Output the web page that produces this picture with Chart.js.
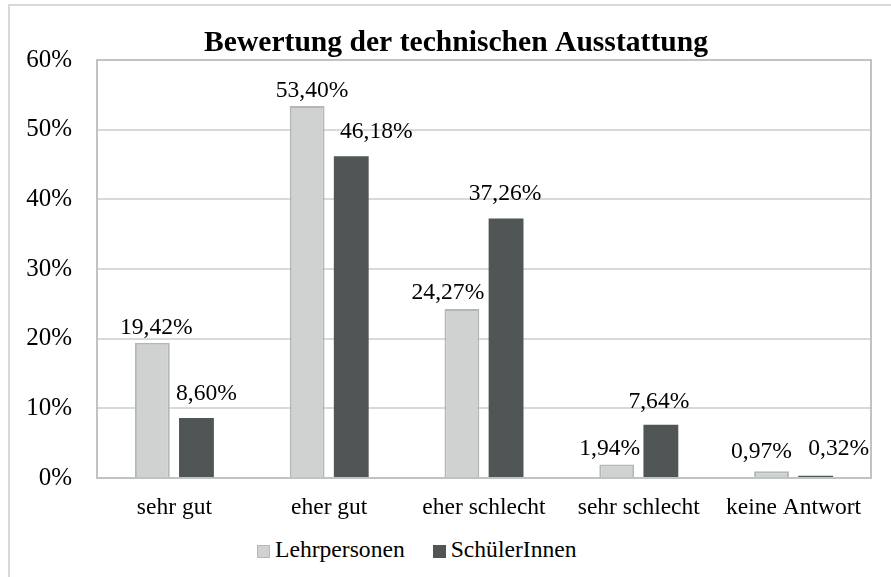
<!DOCTYPE html>
<html lang="de">
<head>
<meta charset="UTF-8">
<title>Bewertung der technischen Ausstattung</title>
<script src="https://cdn.jsdelivr.net/npm/chart.js@4.4.1/dist/chart.umd.min.js"></script>
<style>
    * { margin: 0; padding: 0; box-sizing: border-box; }
    body {
        background: #fff;
        width: 891px;
        height: 577px;
        overflow: hidden;
        position: relative;
        font-family: "Liberation Serif", serif;
    }
    .frame {
        position: absolute;
        left: 8px;
        top: 4px;
        width: 900px;
        height: 600px;
        border: 2px solid #d9d9d9;
    }
    .chart-box {
        position: absolute;
        left: 21px;
        top: 0;
        width: 870px;
        height: 530px;
    }
    #legend {
        position: absolute;
        left: 257px;
        top: 536px;
        display: flex;
        gap: 28px;
        font-size: 23.6px;
        color: #000;
    }
    .legend-item { display: flex; align-items: center; }
    .legend-box { width: 13px; height: 13px; margin-right: 5px; margin-top: 3px; }
</style>
</head>
<body>
<div class="frame"></div>
<div class="chart-box"><canvas id="chart"></canvas></div>
<div id="legend"></div>

<script>
    // values
    const categories = ['sehr gut', 'eher gut', 'eher schlecht', 'sehr schlecht', 'keine Antwort'];
    const lehrpersonen = [19.42, 53.40, 24.27, 1.94, 0.97];
    const schuelerInnen = [8.60, 46.18, 37.26, 7.64, 0.32];
    const yTicks = [0, 10, 20, 30, 40, 50, 60];

    // little nudges of the value labels, like in the original sheet
    const labelShift = [
        [[4, 0], [5, 0], [-14, 1], [-7, 0], [-10, 4]],
        [[10, 9], [25, 9], [-1, 9], [-2, 8], [23, 12]]
    ];

    const serif = '"Liberation Serif", "Times New Roman", serif';

    // the title in the original sits a bit right of the canvas centre
    const titleNudge = {
        id: 'titleNudge',
        afterLayout(chart) {
            if (chart.titleBlock) chart.titleBlock.left += 20;
        }
    };

    const plotFrame = {
        id: 'plotFrame',
        beforeDatasetsDraw(chart) {
            const { ctx, chartArea: a } = chart;
            ctx.save();
            ctx.strokeStyle = '#bfc4c3';
            ctx.lineWidth = 2;
            ctx.strokeRect(a.left, a.top, a.right - a.left, a.bottom - a.top);
            ctx.restore();
        }
    };

    const valueLabels = {
        id: 'valueLabels',
        afterDatasetsDraw(chart) {
            const ctx = chart.ctx;
            ctx.save();
            ctx.font = '23.6px ' + serif;
            ctx.fillStyle = '#000';
            ctx.textAlign = 'center';
            ctx.textBaseline = 'alphabetic';
            chart.data.datasets.forEach((ds, i) => {
                chart.getDatasetMeta(i).data.forEach((bar, j) => {
                    const txt = ds.data[j].toFixed(2).replace('.', ',') + '%';
                    const s = labelShift[i][j];
                    ctx.fillText(txt, bar.x + s[0], bar.y - 9 - s[1]);
                });
            });
            ctx.restore();
        }
    };

    const chart = new Chart(document.getElementById('chart'), {
        type: 'bar',
        data: {
            labels: categories,
            datasets: [{
                label: 'Lehrpersonen',
                data: lehrpersonen,
                backgroundColor: '#d0d2d1',
                borderColor: '#b3b8b7',
                borderWidth: 2
            }, {
                label: 'SchülerInnen',
                data: schuelerInnen,
                backgroundColor: '#505555',
                borderColor: '#505555',
                borderWidth: 0
            }]
        },
        options: {
            responsive: true,
            maintainAspectRatio: false,
            animation: false,
            categoryPercentage: 0.57,
            barPercentage: 0.79,
            layout: { padding: { left: 0, right: 20, top: 0, bottom: 0 } },
            plugins: {
                legend: { display: false },
                tooltip: { enabled: false },
                title: {
                    display: true,
                    text: 'Bewertung der technischen Ausstattung',
                    color: '#000',
                    font: { family: serif, size: 29.6, weight: 'bold', lineHeight: 1.1 },
                    padding: { top: 27.4, bottom: 0 }
                }
            },
            scales: {
                x: {
                    grid: { display: false },
                    border: { display: false },
                    ticks: { color: '#000', font: { family: serif, size: 23.5 }, padding: 8 },
                    afterFit(scale) { scale.height = 52; }
                },
                y: {
                    min: 0,
                    max: 60,
                    afterBuildTicks(scale) { scale.ticks = yTicks.map(v => ({ value: v })); },
                    grid: { color: '#d9d9d9', lineWidth: 2, drawTicks: false },
                    border: { display: false },
                    ticks: {
                        color: '#000',
                        font: { family: serif, size: 25 },
                        padding: 25,
                        callback: v => v + '%'
                    },
                    afterFit(scale) { scale.width = 76; }
                }
            }
        },
        plugins: [titleNudge, plotFrame, valueLabels]
    });

    // legend below the chart, built from the datasets
    const legend = document.getElementById('legend');
    chart.data.datasets.forEach(ds => {
        const item = document.createElement('div');
        item.className = 'legend-item';
        const box = document.createElement('span');
        box.className = 'legend-box';
        box.style.background = ds.backgroundColor;
        if (ds.borderWidth) box.style.border = '1.5px solid ' + ds.borderColor;
        const text = document.createElement('span');
        text.textContent = ds.label;
        item.appendChild(box);
        item.appendChild(text);
        legend.appendChild(item);
    });
</script>
</body>
</html>
